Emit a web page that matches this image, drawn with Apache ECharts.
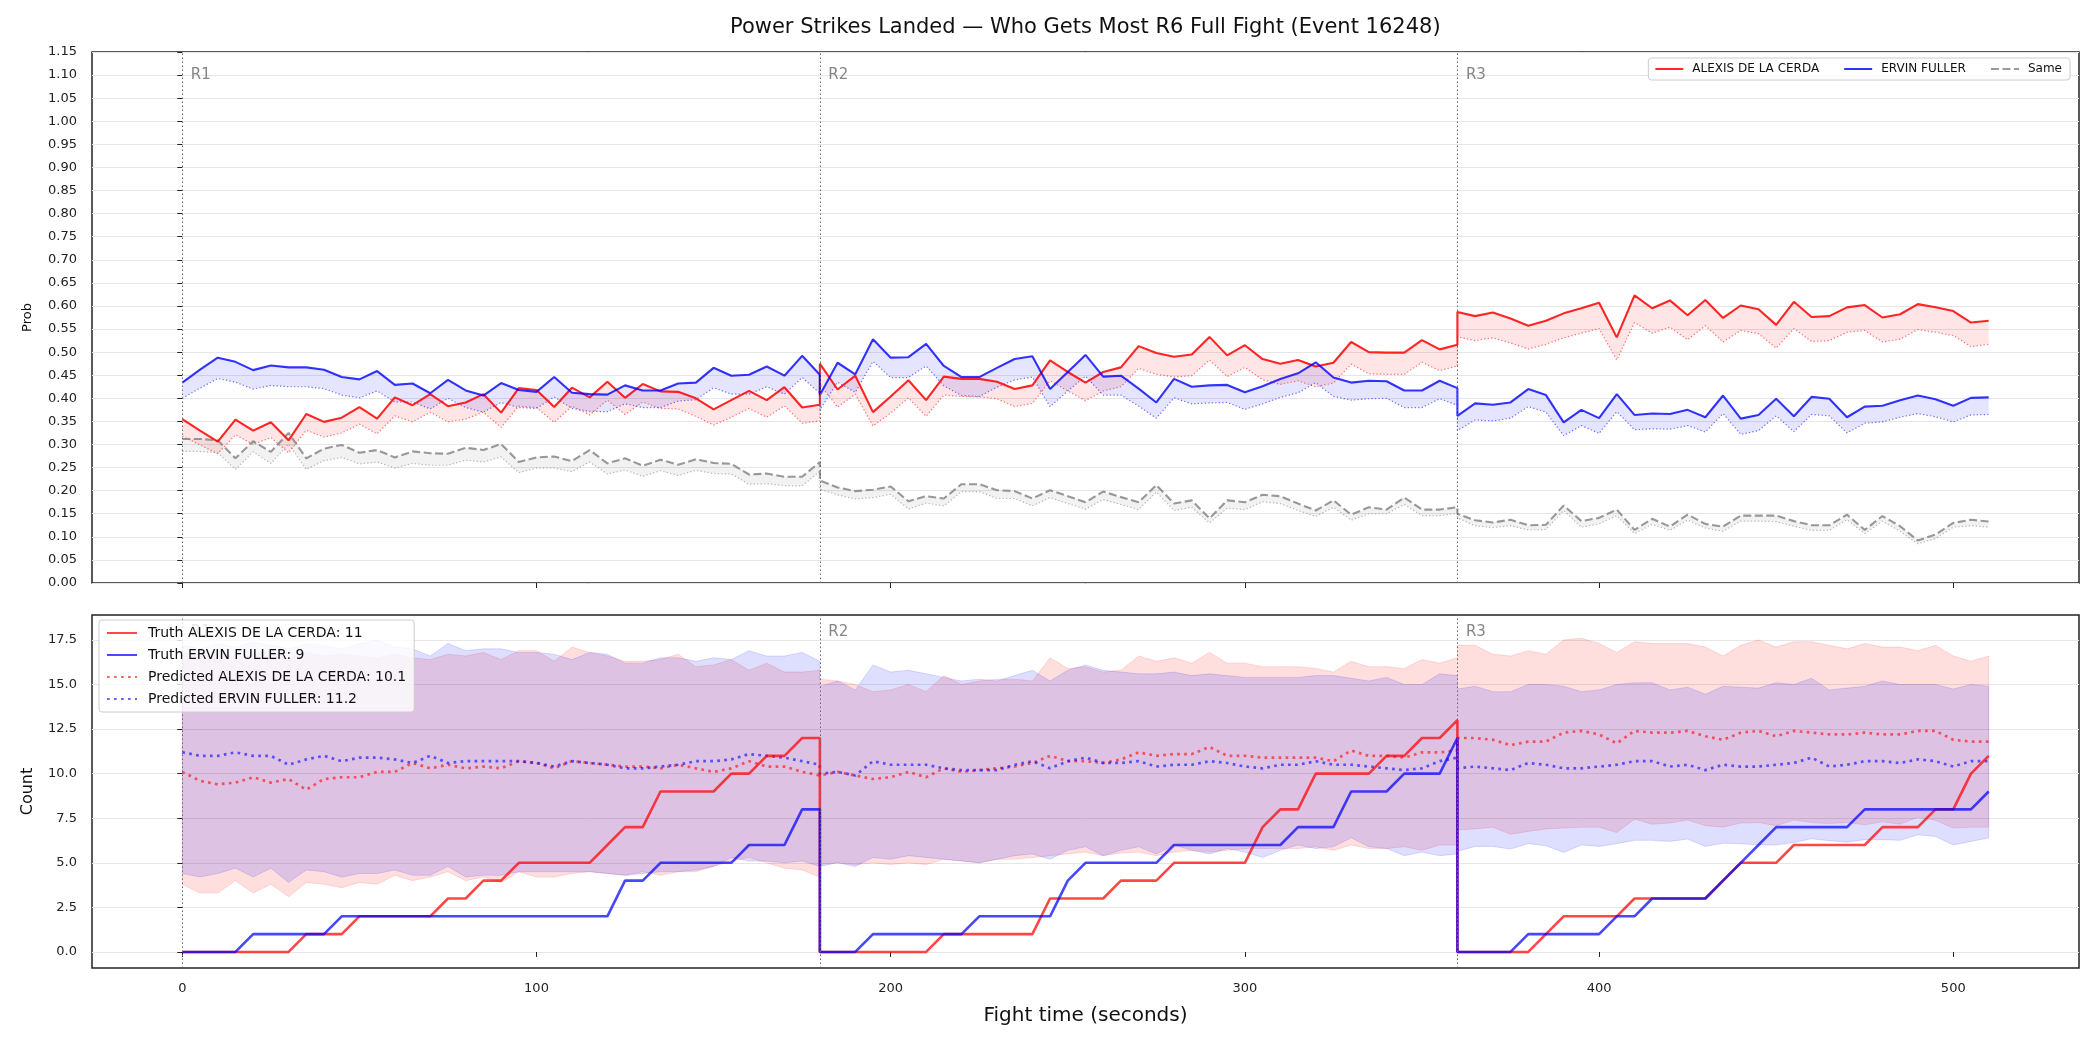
<!DOCTYPE html>
<html>
<head>
<meta charset="utf-8">
<script src="https://cdn.jsdelivr.net/npm/echarts@6/dist/echarts.min.js"></script>
<style>
html, body { margin: 0; padding: 0; background: #fff; }
#chart { width: 2100px; height: 1050px; }
</style>
</head>
<body>
<div id="chart"></div>
<script>
// time axis: R1, R2, R3 (round boundaries appear twice)
const fightTime = [
  0, 5, 10, 15, 20, 25, 30, 35, 40, 45, 50, 55, 60, 65, 70, 75, 80, 85, 90, 95, 100, 105, 110, 115, 120, 125, 130, 135, 140, 145, 150, 155, 160, 165, 170, 175, 180,
  180, 185, 190, 195, 200, 205, 210, 215, 220, 225, 230, 235, 240, 245, 250, 255, 260, 265, 270, 275, 280, 285, 290, 295, 300, 305, 310, 315, 320, 325, 330, 335, 340, 345, 350, 355, 360,
  360, 365, 370, 375, 380, 385, 390, 395, 400, 405, 410, 415, 420, 425, 430, 435, 440, 445, 450, 455, 460, 465, 470, 475, 480, 485, 490, 495, 500, 505, 510
];
const roundStart = [0, 180, 360];
const roundNames = ['R1', 'R2', 'R3'];
const fighters = ['ALEXIS DE LA CERDA', 'ERVIN FULLER'];
const truthTotals = [11, 9];
const predictedTotals = [10.1, 11.2];
const xTicks = [0, 100, 200, 300, 400, 500];
const countTicks = [0, 2.5, 5, 7.5, 10, 12.5, 15, 17.5];

// top panel: probabilities (line and lower dotted line)
const probRed = [
  0.355, 0.330, 0.306, 0.354, 0.330, 0.348, 0.309, 0.366, 0.349, 0.358, 0.381, 0.356, 0.402, 0.385, 0.409, 0.383, 0.391, 0.409, 0.369, 0.422, 0.418, 0.381, 0.423, 0.402, 0.436, 0.401, 0.431, 0.415, 0.414, 0.400, 0.376, 0.396, 0.416, 0.396, 0.424, 0.380, 0.386,
  0.475, 0.419, 0.449, 0.370, 0.404, 0.439, 0.396, 0.447, 0.442, 0.442, 0.436, 0.420, 0.428, 0.482, 0.457, 0.434, 0.457, 0.467, 0.513, 0.498, 0.490, 0.495, 0.533, 0.493, 0.515, 0.485, 0.475, 0.483, 0.469, 0.477, 0.522, 0.500, 0.499, 0.499, 0.526, 0.506, 0.516,
  0.587, 0.578, 0.586, 0.573, 0.557, 0.568, 0.584, 0.595, 0.607, 0.532, 0.623, 0.595, 0.612, 0.580, 0.613, 0.574, 0.601, 0.593, 0.559, 0.609, 0.576, 0.578, 0.597, 0.602, 0.575, 0.582, 0.604, 0.597, 0.589, 0.564, 0.568
];
const probRedLow = [
  0.318, 0.299, 0.280, 0.321, 0.300, 0.315, 0.282, 0.331, 0.316, 0.325, 0.344, 0.323, 0.362, 0.349, 0.370, 0.349, 0.355, 0.370, 0.337, 0.383, 0.380, 0.348, 0.383, 0.364, 0.396, 0.365, 0.392, 0.378, 0.377, 0.361, 0.342, 0.359, 0.378, 0.359, 0.384, 0.346, 0.351,
  0.430, 0.381, 0.409, 0.340, 0.368, 0.401, 0.361, 0.407, 0.404, 0.403, 0.399, 0.382, 0.389, 0.438, 0.416, 0.395, 0.416, 0.425, 0.465, 0.452, 0.446, 0.449, 0.483, 0.447, 0.467, 0.440, 0.430, 0.438, 0.425, 0.433, 0.474, 0.453, 0.452, 0.452, 0.478, 0.460, 0.470,
  0.533, 0.525, 0.531, 0.520, 0.507, 0.517, 0.531, 0.541, 0.551, 0.483, 0.564, 0.541, 0.554, 0.527, 0.557, 0.522, 0.547, 0.540, 0.509, 0.551, 0.523, 0.525, 0.543, 0.547, 0.522, 0.528, 0.549, 0.543, 0.536, 0.512, 0.517
];
const probBlue = [
  0.434, 0.462, 0.488, 0.479, 0.461, 0.471, 0.467, 0.467, 0.462, 0.446, 0.441, 0.459, 0.429, 0.432, 0.411, 0.440, 0.417, 0.406, 0.433, 0.418, 0.414, 0.446, 0.412, 0.409, 0.408, 0.428, 0.417, 0.417, 0.432, 0.434, 0.466, 0.449, 0.451, 0.469, 0.449, 0.492, 0.451,
  0.407, 0.477, 0.452, 0.528, 0.488, 0.489, 0.518, 0.470, 0.446, 0.446, 0.466, 0.485, 0.491, 0.420, 0.457, 0.494, 0.447, 0.449, 0.421, 0.391, 0.442, 0.425, 0.428, 0.429, 0.413, 0.426, 0.442, 0.454, 0.478, 0.445, 0.434, 0.438, 0.437, 0.417, 0.417, 0.438, 0.422,
  0.362, 0.389, 0.386, 0.391, 0.420, 0.407, 0.348, 0.375, 0.357, 0.409, 0.364, 0.367, 0.366, 0.375, 0.359, 0.406, 0.356, 0.364, 0.399, 0.361, 0.403, 0.399, 0.359, 0.382, 0.384, 0.396, 0.406, 0.398, 0.384, 0.401, 0.402
];
const probBlueLow = [
  0.400, 0.422, 0.443, 0.435, 0.420, 0.428, 0.425, 0.425, 0.421, 0.407, 0.401, 0.416, 0.392, 0.392, 0.377, 0.400, 0.380, 0.370, 0.391, 0.380, 0.378, 0.403, 0.378, 0.372, 0.371, 0.388, 0.380, 0.380, 0.394, 0.397, 0.423, 0.409, 0.409, 0.425, 0.409, 0.445, 0.411,
  0.375, 0.435, 0.413, 0.480, 0.445, 0.445, 0.470, 0.427, 0.406, 0.404, 0.424, 0.440, 0.446, 0.382, 0.416, 0.448, 0.407, 0.407, 0.383, 0.357, 0.401, 0.388, 0.390, 0.391, 0.376, 0.388, 0.402, 0.412, 0.434, 0.404, 0.396, 0.399, 0.400, 0.380, 0.380, 0.399, 0.385,
  0.330, 0.353, 0.351, 0.357, 0.382, 0.370, 0.319, 0.341, 0.324, 0.371, 0.332, 0.334, 0.333, 0.341, 0.327, 0.367, 0.322, 0.330, 0.362, 0.328, 0.365, 0.362, 0.325, 0.346, 0.349, 0.359, 0.367, 0.360, 0.349, 0.364, 0.365
];
const probSame = [
  0.312, 0.312, 0.309, 0.270, 0.307, 0.284, 0.325, 0.270, 0.291, 0.299, 0.282, 0.288, 0.272, 0.285, 0.281, 0.280, 0.293, 0.288, 0.301, 0.262, 0.272, 0.274, 0.264, 0.288, 0.259, 0.270, 0.254, 0.267, 0.256, 0.268, 0.260, 0.258, 0.235, 0.237, 0.230, 0.230, 0.262,
  0.222, 0.207, 0.199, 0.202, 0.209, 0.177, 0.188, 0.183, 0.214, 0.214, 0.201, 0.199, 0.183, 0.201, 0.188, 0.175, 0.198, 0.186, 0.175, 0.212, 0.172, 0.179, 0.140, 0.179, 0.175, 0.191, 0.188, 0.172, 0.157, 0.179, 0.148, 0.164, 0.159, 0.185, 0.159, 0.159, 0.164,
  0.150, 0.136, 0.131, 0.137, 0.125, 0.126, 0.168, 0.134, 0.141, 0.159, 0.115, 0.139, 0.122, 0.148, 0.128, 0.122, 0.146, 0.146, 0.146, 0.134, 0.125, 0.125, 0.148, 0.115, 0.145, 0.123, 0.092, 0.105, 0.130, 0.137, 0.133
];
const probSameLow = [
  0.285, 0.285, 0.282, 0.246, 0.284, 0.259, 0.301, 0.246, 0.265, 0.272, 0.258, 0.262, 0.249, 0.259, 0.255, 0.255, 0.266, 0.262, 0.273, 0.239, 0.249, 0.249, 0.241, 0.262, 0.236, 0.245, 0.231, 0.243, 0.233, 0.244, 0.237, 0.236, 0.214, 0.215, 0.211, 0.210, 0.242,
  0.203, 0.191, 0.182, 0.185, 0.192, 0.160, 0.173, 0.167, 0.198, 0.198, 0.183, 0.183, 0.167, 0.185, 0.172, 0.160, 0.181, 0.170, 0.159, 0.197, 0.157, 0.164, 0.130, 0.162, 0.159, 0.176, 0.172, 0.157, 0.144, 0.164, 0.136, 0.150, 0.150, 0.170, 0.146, 0.146, 0.151,
  0.141, 0.124, 0.120, 0.124, 0.115, 0.116, 0.157, 0.121, 0.128, 0.146, 0.107, 0.127, 0.114, 0.136, 0.119, 0.112, 0.134, 0.134, 0.133, 0.123, 0.114, 0.114, 0.137, 0.107, 0.134, 0.112, 0.085, 0.096, 0.121, 0.124, 0.121
];

// bottom panel: counts
const truthRed = [
  0, 0, 0, 0, 0, 0, 0, 1, 1, 1, 2, 2, 2, 2, 2, 3, 3, 4, 4, 5, 5, 5, 5, 5, 6, 7, 7, 9, 9, 9, 9, 10, 10, 11, 11, 12, 12,
  0, 0, 0, 0, 0, 0, 0, 1, 1, 1, 1, 1, 1, 3, 3, 3, 3, 4, 4, 4, 5, 5, 5, 5, 5, 7, 8, 8, 10, 10, 10, 10, 11, 11, 12, 12, 13,
  0, 0, 0, 0, 0, 1, 2, 2, 2, 2, 3, 3, 3, 3, 3, 4, 5, 5, 5, 6, 6, 6, 6, 6, 7, 7, 7, 8, 8, 10, 11
];
const truthBlue = [
  0, 0, 0, 0, 1, 1, 1, 1, 1, 2, 2, 2, 2, 2, 2, 2, 2, 2, 2, 2, 2, 2, 2, 2, 2, 4, 4, 5, 5, 5, 5, 5, 6, 6, 6, 8, 8,
  0, 0, 0, 1, 1, 1, 1, 1, 1, 2, 2, 2, 2, 2, 4, 5, 5, 5, 5, 5, 6, 6, 6, 6, 6, 6, 6, 7, 7, 7, 9, 9, 9, 10, 10, 10, 12,
  0, 0, 0, 0, 1, 1, 1, 1, 1, 2, 2, 3, 3, 3, 3, 4, 5, 6, 7, 7, 7, 7, 7, 8, 8, 8, 8, 8, 8, 8, 9
];
const predRed = [
  10.1, 9.6, 9.4, 9.5, 9.8, 9.5, 9.7, 9.1, 9.7, 9.8, 9.8, 10.1, 10.1, 10.6, 10.3, 10.5, 10.3, 10.4, 10.3, 10.7, 10.6, 10.3, 10.7, 10.6, 10.5, 10.4, 10.4, 10.3, 10.5, 10.3, 10.1, 10.3, 10.7, 10.4, 10.4, 10.1, 9.9,
  10.0, 10.1, 9.9, 9.7, 9.8, 10.1, 9.8, 10.3, 10.1, 10.2, 10.3, 10.4, 10.6, 11.0, 10.7, 10.7, 10.6, 10.8, 11.2, 11.0, 11.1, 11.1, 11.5, 11.0, 11.0, 10.9, 10.9, 10.9, 10.9, 10.7, 11.3, 11.0, 11.0, 10.9, 11.2, 11.2, 11.3,
  12.0, 12.0, 11.9, 11.6, 11.8, 11.8, 12.3, 12.4, 12.2, 11.7, 12.4, 12.3, 12.3, 12.4, 12.1, 11.9, 12.3, 12.4, 12.1, 12.4, 12.3, 12.2, 12.2, 12.3, 12.2, 12.2, 12.4, 12.4, 11.9, 11.8, 11.8
];
const predBlue = [
  11.2, 11.0, 11.0, 11.2, 11.0, 11.0, 10.5, 10.8, 11.0, 10.7, 10.9, 10.9, 10.8, 10.6, 11.0, 10.6, 10.7, 10.7, 10.7, 10.7, 10.6, 10.4, 10.7, 10.6, 10.5, 10.3, 10.3, 10.4, 10.5, 10.7, 10.7, 10.8, 11.1, 11.0, 10.9, 10.7, 10.5,
  10.0, 10.1, 9.9, 10.7, 10.5, 10.5, 10.5, 10.3, 10.2, 10.2, 10.2, 10.5, 10.7, 10.3, 10.7, 10.9, 10.6, 10.6, 10.7, 10.4, 10.5, 10.5, 10.7, 10.6, 10.4, 10.3, 10.5, 10.5, 10.7, 10.5, 10.5, 10.4, 10.3, 10.2, 10.3, 10.7, 10.9,
  10.3, 10.4, 10.3, 10.2, 10.6, 10.5, 10.3, 10.3, 10.4, 10.5, 10.7, 10.7, 10.4, 10.5, 10.2, 10.5, 10.4, 10.4, 10.5, 10.6, 10.9, 10.4, 10.5, 10.7, 10.7, 10.6, 10.8, 10.7, 10.4, 10.7, 10.7
];
const bandRedHigh = [
  16.8, 16.6, 16.9, 16.5, 16.7, 16.9, 16.4, 16.8, 16.6, 16.7, 16.6, 16.5, 16.7, 16.5, 16.4, 16.7, 16.6, 16.8, 16.4, 16.9, 16.9, 16.3, 17.1, 16.8, 16.6, 16.3, 16.3, 16.4, 16.7, 16.0, 16.1, 16.4, 15.8, 16.2, 15.7, 15.7, 15.8,
  15.3, 15.2, 15.0, 14.6, 14.7, 15.0, 14.6, 15.5, 15.0, 15.2, 15.3, 15.3, 15.2, 16.5, 15.9, 16.0, 15.7, 15.8, 16.6, 16.3, 16.5, 16.2, 16.8, 16.2, 16.2, 16.0, 16.0, 16.0, 15.9, 15.7, 16.3, 16.0, 16.0, 15.9, 16.4, 16.2, 16.5,
  17.2, 17.2, 16.7, 16.6, 16.9, 16.7, 17.5, 17.6, 17.3, 16.8, 17.4, 17.3, 17.3, 17.3, 17.1, 16.6, 17.2, 17.5, 17.1, 17.4, 17.4, 17.2, 17.0, 17.3, 17.1, 17.1, 16.9, 17.2, 16.6, 16.3, 16.6
];
const bandRedLow = [
  3.8, 3.3, 3.3, 4.0, 3.3, 3.8, 3.1, 3.9, 3.8, 3.6, 3.9, 3.8, 4.3, 4.0, 4.2, 4.5, 4.0, 4.2, 3.9, 4.5, 4.2, 4.2, 4.4, 4.5, 4.4, 4.3, 4.5, 4.3, 4.5, 4.5, 4.8, 5.1, 5.3, 5.0, 4.7, 4.6, 4.2,
  4.9, 5.0, 4.9, 5.0, 4.9, 5.0, 4.9, 5.2, 5.1, 5.0, 5.2, 5.2, 5.3, 5.4, 5.5, 5.6, 5.4, 5.55, 5.6, 5.4, 5.6, 5.7, 5.6, 5.7, 5.8, 5.8, 5.8, 5.8, 5.9, 5.7, 6.0, 5.8, 5.8, 5.9, 5.7, 6.0, 6.0,
  6.85, 6.9, 7.0, 6.6, 6.76, 6.9, 6.95, 7.0, 7.0, 6.7, 7.45, 7.17, 7.23, 7.4, 7.08, 7.0, 7.23, 7.26, 7.08, 7.4, 7.26, 7.2, 7.26, 7.13, 7.3, 7.17, 7.56, 7.38, 6.95, 7.0, 7.0
];
const bandBlueHigh = [
  17.2, 17.0, 17.3, 17.1, 17.4, 17.2, 17.0, 17.3, 17.2, 17.0, 17.3, 17.5, 17.1, 17.0, 16.6, 17.3, 16.9, 17.0, 17.0, 16.8, 16.8, 16.7, 16.4, 16.8, 16.7, 16.2, 16.2, 16.5, 16.5, 16.3, 16.5, 16.4, 16.9, 16.6, 16.6, 16.8, 16.3,
  14.9, 15.2, 14.7, 16.1, 15.7, 15.8, 15.6, 15.4, 15.2, 15.3, 15.2, 15.5, 15.8, 15.2, 15.8, 16.1, 15.8, 15.7, 15.6, 15.6, 15.7, 15.5, 15.6, 15.5, 15.4, 15.4, 15.4, 15.4, 15.5, 15.5, 15.35, 15.2, 15.4, 15.0, 15.0, 15.6, 15.5,
  14.75, 14.9, 14.6, 14.6, 15.0, 15.0, 14.9, 14.6, 14.7, 15.0, 15.1, 15.1, 14.7, 14.85, 14.45, 14.9, 14.85, 14.8, 15.1, 15.0, 15.35, 14.7, 14.8, 14.9, 15.2, 15.0, 15.0, 15.0, 14.75, 15.0, 14.9
];
const bandBlueLow = [
  4.4, 4.2, 4.4, 4.7, 4.2, 4.7, 3.9, 4.6, 4.5, 4.2, 4.4, 4.4, 4.6, 4.3, 4.3, 4.8, 4.2, 4.3, 4.3, 4.5, 4.5, 4.5, 4.5, 4.5, 4.4, 4.3, 4.4, 4.5, 4.5, 4.6, 4.8, 5.3, 5.1, 5.1, 5.0, 5.1, 4.8,
  4.8, 5.0, 4.8, 5.3, 5.2, 5.4, 5.3, 5.2, 5.1, 5.0, 5.2, 5.4, 5.5, 5.2, 5.7, 5.9, 5.4, 5.7, 5.9, 5.5, 6.0, 5.7, 5.5, 5.8, 5.6, 5.3, 5.7, 6.0, 5.8, 5.9, 6.4, 5.9, 5.8, 5.4, 5.6, 5.4, 5.5,
  5.64, 5.92, 5.92, 5.77, 6.07, 5.96, 5.58, 6.0, 5.92, 6.07, 6.26, 6.26, 6.2, 6.33, 5.92, 6.1, 6.07, 6.0, 6.0, 6.14, 6.35, 6.24, 6.16, 6.3, 6.3, 6.26, 6.57, 6.48, 6.0, 6.2, 6.39
];

const chartDom = document.getElementById('chart');
const myChart = echarts.init(chartDom, null, { renderer: 'canvas' });

// line through the data
function lineSeries(name, gi, values, color, width, type, z) {
  return {
    type: 'line', name: name, xAxisIndex: gi, yAxisIndex: gi,
    data: fightTime.map((t, i) => [t, values[i]]),
    symbol: 'none', showSymbol: false, z: z, silent: true,
    lineStyle: { color: color, width: width, type: type },
    itemStyle: { color: color },
    emphasis: { disabled: true }
  };
}

// filled band between two arrays, one polygon
function bandSeries(name, gi, low, high, fill, stroke) {
  const rows = fightTime.map((t, i) => [t, low[i], high[i]]);
  return {
    type: 'custom', name: name, xAxisIndex: gi, yAxisIndex: gi,
    data: rows, encode: { x: 0, y: [1, 2] }, silent: true, z: 1,
    renderItem: function (params, api) {
      if (params.dataIndex !== 0) return null;
      const upper = rows.map(r => api.coord([r[0], r[2]]));
      const lower = rows.map(r => api.coord([r[0], r[1]])).reverse();
      return {
        type: 'polygon',
        shape: { points: upper.concat(lower) },
        style: { fill: fill, stroke: stroke || null, lineWidth: 1 }
      };
    }
  };
}

// round separators + labels
function roundSeries(gi, yPos) {
  return {
    type: 'scatter', name: 'rounds' + gi, xAxisIndex: gi, yAxisIndex: gi,
    data: roundStart.map((t, i) => ({ value: [t, yPos], label: { formatter: roundNames[i] } })),
    symbolSize: 1, itemStyle: { color: 'rgba(0,0,0,0)' }, silent: true, z: 2,
    label: { show: true, position: 'right', distance: 8, fontSize: 15, color: '#666' },
    markLine: {
      silent: true, symbol: 'none', animation: false,
      label: { show: false },
      lineStyle: { color: '#666', width: 1, type: [1.5, 2.5] },
      data: roundStart.map(t => ({ xAxis: t }))
    }
  };
}

const truthNames = fighters.map((f, i) => 'Truth ' + f + ': ' + truthTotals[i]);
const predNames = fighters.map((f, i) => 'Predicted ' + f + ': ' + predictedTotals[i]);

const tickStyle = { show: true, length: 5, lineStyle: { color: '#222', width: 1 } };
const labelStyle = { fontSize: 13, color: '#222' };
const hiddenSymbol = { color: 'rgba(0,0,0,0)', borderWidth: 0, opacity: 0 };

// center the title over the plot area
const titleText = 'Power Strikes Landed \u2014 Who Gets Most R6 Full Fight (Event 16248)';
const measureCtx = document.createElement('canvas').getContext('2d');
measureCtx.font = '21px "DejaVu Sans"';
const titleWidth = measureCtx.measureText(titleText).width;
const plotCenter = 92 + 1987 / 2;

const option = {
  animation: false,
  textStyle: { fontFamily: 'DejaVu Sans' },
  title: {
    text: titleText,
    left: Math.round(plotCenter - titleWidth / 2), top: 17, padding: 0,
    textStyle: { fontSize: 21, fontWeight: 'normal', color: '#111', fontFamily: 'DejaVu Sans' }
  },
  grid: [
    { left: 92, top: 52, width: 1987, height: 531, show: true, borderColor: '#222', borderWidth: 1.5, backgroundColor: 'transparent' },
    { left: 92, top: 615, width: 1987, height: 353, show: true, borderColor: '#222', borderWidth: 1.5, backgroundColor: 'transparent' }
  ],
  legend: [
    {
      data: fighters.concat(['Same']),
      right: 30, top: 58, orient: 'horizontal', selectedMode: false, z: 10,
      itemWidth: 28, itemHeight: 14, itemGap: 24,
      padding: [5, 8, 5, 6],
      itemStyle: hiddenSymbol,
      backgroundColor: 'rgba(255,255,255,0.8)', borderColor: '#cccccc', borderWidth: 1, borderRadius: 3,
      textStyle: { fontSize: 12, color: '#111', padding: [0, 0, 0, 4] }
    },
    {
      data: truthNames.concat(predNames),
      left: 99, top: 620, orient: 'vertical', selectedMode: false, z: 10,
      itemWidth: 30, itemHeight: 14, itemGap: 8,
      padding: [6, 8, 6, 7],
      itemStyle: hiddenSymbol,
      backgroundColor: 'rgba(255,255,255,0.8)', borderColor: '#cccccc', borderWidth: 1, borderRadius: 3,
      textStyle: { fontSize: 14, color: '#111', padding: [0, 0, 0, 6] }
    }
  ],
  xAxis: [
    {
      type: 'value', gridIndex: 0, min: -25.5, max: 535.5,
      axisLine: { show: false },
      axisTick: Object.assign({ customValues: xTicks }, tickStyle),
      axisLabel: { show: false, customValues: xTicks },
      splitLine: { show: false }
    },
    {
      type: 'value', gridIndex: 1, min: -25.5, max: 535.5,
      name: 'Fight time (seconds)', nameLocation: 'middle', nameGap: 38,
      nameTextStyle: { fontSize: 20, color: '#111' },
      axisLine: { show: false },
      axisTick: Object.assign({ customValues: xTicks }, tickStyle),
      axisLabel: Object.assign({ customValues: xTicks, margin: 14 }, labelStyle),
      splitLine: { show: false }
    }
  ],
  yAxis: [
    {
      type: 'value', gridIndex: 0, min: 0, max: 1.15, interval: 0.05,
      name: 'Prob', nameLocation: 'middle', nameGap: 58,
      nameTextStyle: { fontSize: 13, color: '#111' },
      axisLine: { show: false },
      axisTick: tickStyle,
      axisLabel: Object.assign({ margin: 15, interval: 0, showMinLabel: true, showMaxLabel: true, formatter: v => v.toFixed(2) }, labelStyle),
      splitLine: { show: true, lineStyle: { color: '#e6e6e6', width: 1 } }
    },
    {
      type: 'value', gridIndex: 1, min: -0.9, max: 18.9,
      name: 'Count', nameLocation: 'middle', nameGap: 56,
      nameTextStyle: { fontSize: 16, color: '#111' },
      axisLine: { show: false },
      axisTick: Object.assign({ customValues: countTicks }, tickStyle),
      axisLabel: Object.assign({ customValues: countTicks, margin: 15, formatter: v => v.toFixed(1) }, labelStyle),
      splitLine: { show: true, lineStyle: { color: '#e6e6e6', width: 1 } }
    }
  ],
  series: [
    // top panel
    bandSeries('bandSame', 0, probSameLow, probSame, 'rgba(128,128,128,0.1)'),
    bandSeries('bandRedTop', 0, probRedLow, probRed, 'rgba(255,0,0,0.1)'),
    bandSeries('bandBlueTop', 0, probBlueLow, probBlue, 'rgba(0,0,255,0.1)'),
    lineSeries('sameLow', 0, probSameLow, 'rgba(128,128,128,0.55)', 1.2, [1.3, 2.2], 2),
    lineSeries('redLow', 0, probRedLow, 'rgba(255,0,0,0.55)', 1.2, [1.3, 2.2], 2),
    lineSeries('blueLow', 0, probBlueLow, 'rgba(0,0,255,0.55)', 1.2, [1.3, 2.2], 2),
    lineSeries('Same', 0, probSame, 'rgba(128,128,128,0.8)', 2.1, [8, 3.5], 3),
    lineSeries(fighters[0], 0, probRed, 'rgba(255,0,0,0.85)', 2.1, 'solid', 3),
    lineSeries(fighters[1], 0, probBlue, 'rgba(0,0,255,0.8)', 2.1, 'solid', 3),
    roundSeries(0, 1.10),
    // bottom panel
    bandSeries('bandRedBottom', 1, bandRedLow, bandRedHigh, 'rgba(255,0,0,0.13)', 'rgba(255,0,0,0.13)'),
    bandSeries('bandBlueBottom', 1, bandBlueLow, bandBlueHigh, 'rgba(0,0,255,0.13)', 'rgba(0,0,255,0.13)'),
    lineSeries(predNames[0], 1, predRed, 'rgba(255,0,0,0.6)', 2.7, [2.7, 4.3], 2),
    lineSeries(predNames[1], 1, predBlue, 'rgba(0,0,255,0.6)', 2.7, [2.7, 4.3], 2),
    lineSeries(truthNames[0], 1, truthRed, 'rgba(255,0,0,0.72)', 2.6, 'solid', 3),
    lineSeries(truthNames[1], 1, truthBlue, 'rgba(0,0,255,0.72)', 2.6, 'solid', 3),
    roundSeries(1, 17.95)
  ]
};

myChart.setOption(option);
</script>
</body>
</html>
